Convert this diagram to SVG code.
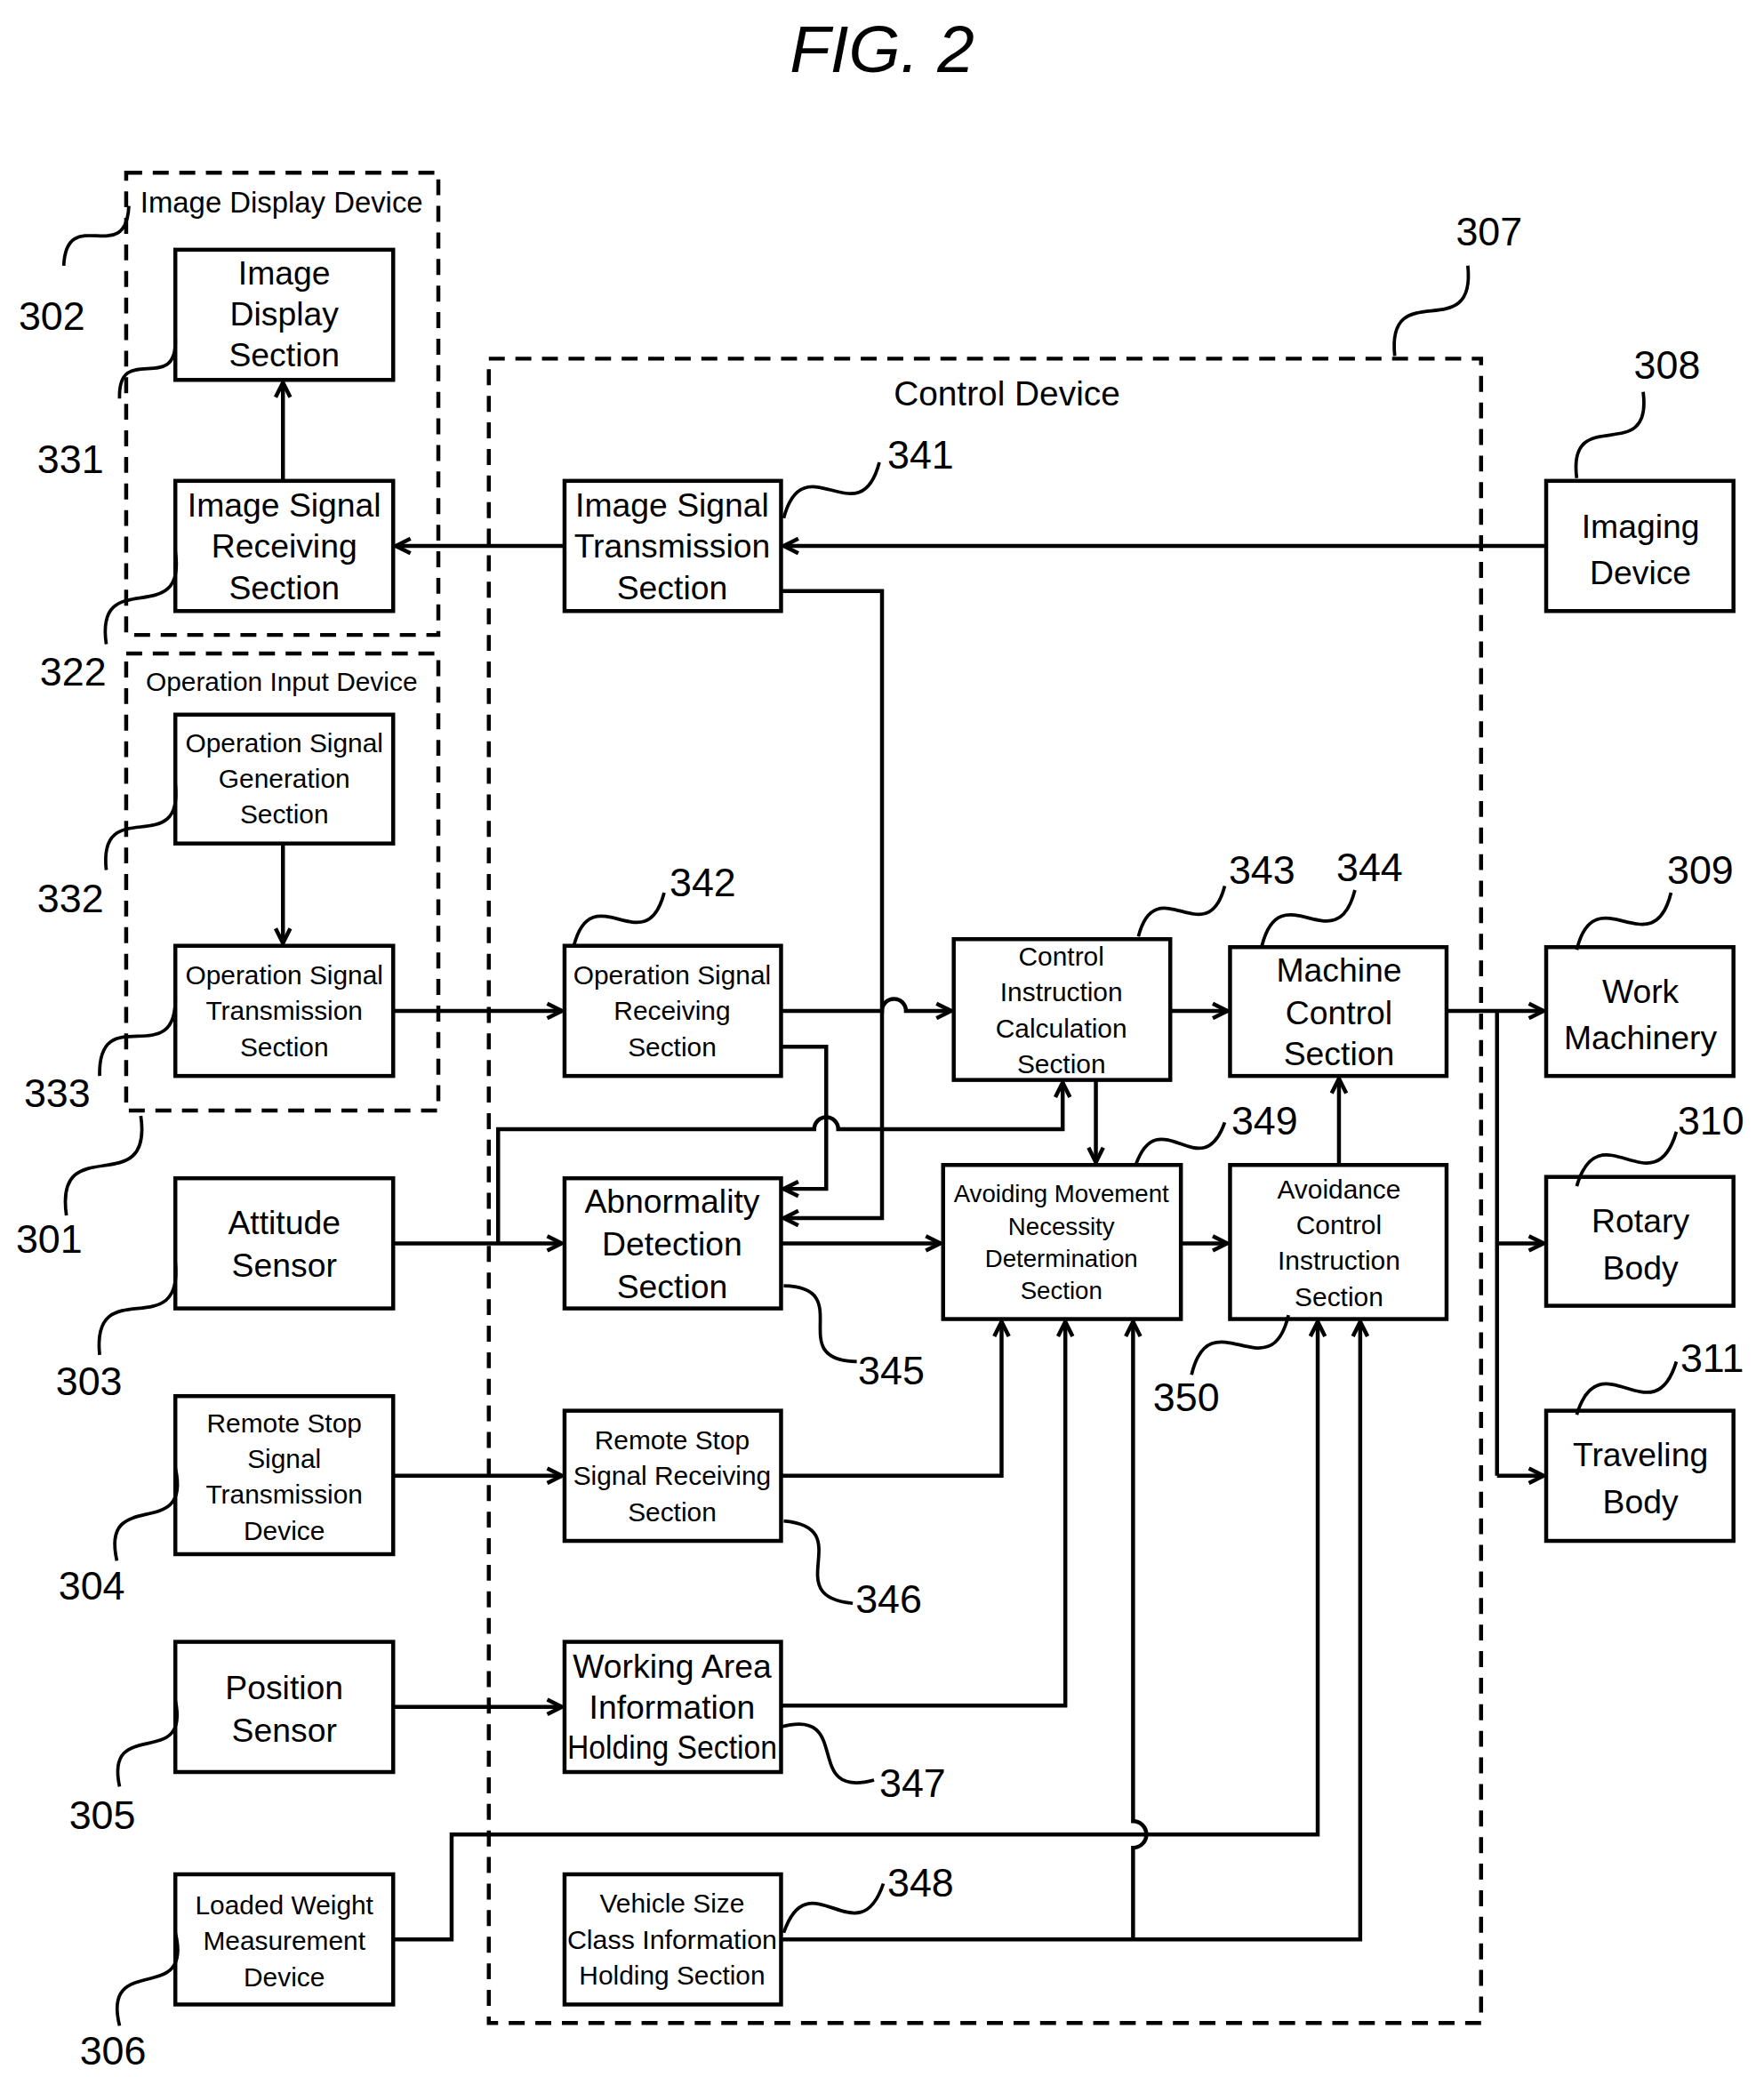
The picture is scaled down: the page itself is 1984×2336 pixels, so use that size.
<svg xmlns="http://www.w3.org/2000/svg" width="1984" height="2336" viewBox="0 0 1984 2336">
<style>
.b{fill:#fff;stroke:#000;stroke-width:3}
.d{fill:none;stroke:#000;stroke-width:3;stroke-dasharray:12,8}
.c{fill:none;stroke:#000;stroke-width:3}
.s{fill:none;stroke:#000;stroke-width:2.5}
text{font-family:"Liberation Sans",Arial,sans-serif;fill:#000;text-anchor:middle}
.L{font-size:25px}
.M{font-size:20px}
.S{font-size:18.5px}
.n{font-size:30px;text-anchor:start}
</style>
<defs>
<marker id="a" viewBox="0 0 14 14" markerWidth="14" markerHeight="14" refX="12" refY="7" orient="auto" markerUnits="userSpaceOnUse">
<path d="M1,1.5 L12,7 L1,12.5" fill="none" stroke="#000" stroke-width="3"/>
</marker>
</defs>
<rect width="1984" height="2336" fill="#fff"/>
<g transform="scale(1.494)">
<text x="664" y="54" style="font-size:50px;font-style:italic">FIG. 2</text>
<g id="containers">
<rect class="d" x="95" y="130" width="235" height="348"/>
<text x="212" y="160" style="font-size:22px">Image Display Device</text>
<rect class="d" x="95" y="492" width="235" height="344"/>
<text x="212" y="520" style="font-size:20px">Operation Input Device</text>
<rect class="d" x="368" y="270" width="747" height="1253"/>
<text x="758" y="305" style="font-size:26px">Control Device</text>
</g>
<g id="connectors">
<path class="c" d="M213,362 V288" marker-end="url(#a)"/>
<path class="c" d="M425,411 H298" marker-end="url(#a)"/>
<path class="c" d="M1164,411 H590" marker-end="url(#a)"/>
<path class="c" d="M588,445 H664 V917 H590" marker-end="url(#a)"/>
<path class="c" d="M213,635 V710" marker-end="url(#a)"/>
<path class="c" d="M296,761 H423" marker-end="url(#a)"/>
<path class="c" d="M588,761 H664 A9,9 0 0 1 682,761 H716" marker-end="url(#a)"/>
<path class="c" d="M588,788 H622 V895 H590" marker-end="url(#a)"/>
<path class="c" d="M296,936 H423" marker-end="url(#a)"/>
<path class="c" d="M375,936 V850 H613 A9,9 0 0 1 631,850 H800 V815" marker-end="url(#a)"/>
<path class="c" d="M588,936 H708" marker-end="url(#a)"/>
<path class="c" d="M825,813 V875" marker-end="url(#a)"/>
<path class="c" d="M889,936 H924" marker-end="url(#a)"/>
<path class="c" d="M1008,877 V812" marker-end="url(#a)"/>
<path class="c" d="M881,761 H924" marker-end="url(#a)"/>
<path class="c" d="M1089,761 H1162" marker-end="url(#a)"/>
<path class="c" d="M1127,761 V1111"/>
<path class="c" d="M1127,936 H1162" marker-end="url(#a)"/>
<path class="c" d="M1127,1111 H1162" marker-end="url(#a)"/>
<path class="c" d="M296,1111 H423" marker-end="url(#a)"/>
<path class="c" d="M588,1111 H754 V995" marker-end="url(#a)"/>
<path class="c" d="M296,1285 H423" marker-end="url(#a)"/>
<path class="c" d="M588,1284 H802 V995" marker-end="url(#a)"/>
<path class="c" d="M296,1460 H340 V1381 H992 V995" marker-end="url(#a)"/>
<path class="c" d="M588,1460 H1024 V995" marker-end="url(#a)"/>
<path class="c" d="M853,1460 V1391 A10,10 0 0 0 853,1371 V995" marker-end="url(#a)"/>
</g>
<g id="n331"><rect class="b" x="132" y="188" width="164" height="98"/><text class="L" x="214" y="214">Image</text><text class="L" x="214" y="245">Display</text><text class="L" x="214" y="276">Section</text></g>
<g id="n322"><rect class="b" x="132" y="362" width="164" height="98"/><text class="L" x="214" y="389">Image Signal</text><text class="L" x="214" y="420">Receiving</text><text class="L" x="214" y="451">Section</text></g>
<g id="n332"><rect class="b" x="132" y="538" width="164" height="97"/><text class="M" x="214" y="566">Operation Signal</text><text class="M" x="214" y="593">Generation</text><text class="M" x="214" y="620">Section</text></g>
<g id="n333"><rect class="b" x="132" y="712" width="164" height="98"/><text class="M" x="214" y="741">Operation Signal</text><text class="M" x="214" y="768">Transmission</text><text class="M" x="214" y="795">Section</text></g>
<g id="n303"><rect class="b" x="132" y="887" width="164" height="98"/><text class="L" x="214" y="929">Attitude</text><text class="L" x="214" y="961">Sensor</text></g>
<g id="n304"><rect class="b" x="132" y="1051" width="164" height="119"/><text class="M" x="214" y="1078">Remote Stop</text><text class="M" x="214" y="1105">Signal</text><text class="M" x="214" y="1132">Transmission</text><text class="M" x="214" y="1159">Device</text></g>
<g id="n305"><rect class="b" x="132" y="1236" width="164" height="98"/><text class="L" x="214" y="1279">Position</text><text class="L" x="214" y="1311">Sensor</text></g>
<g id="n306"><rect class="b" x="132" y="1411" width="164" height="98"/><text class="M" x="214" y="1441">Loaded Weight</text><text class="M" x="214" y="1468">Measurement</text><text class="M" x="214" y="1495">Device</text></g>
<g id="n341"><rect class="b" x="425" y="362" width="163" height="98"/><text class="L" x="506" y="389">Image Signal</text><text class="L" x="506" y="420">Transmission</text><text class="L" x="506" y="451">Section</text></g>
<g id="n342"><rect class="b" x="425" y="712" width="163" height="98"/><text class="M" x="506" y="741">Operation Signal</text><text class="M" x="506" y="768">Receiving</text><text class="M" x="506" y="795">Section</text></g>
<g id="n345"><rect class="b" x="425" y="887" width="163" height="98"/><text class="L" x="506" y="913">Abnormality</text><text class="L" x="506" y="945">Detection</text><text class="L" x="506" y="977">Section</text></g>
<g id="n346"><rect class="b" x="425" y="1062" width="163" height="98"/><text class="M" x="506" y="1091">Remote Stop</text><text class="M" x="506" y="1118">Signal Receiving</text><text class="M" x="506" y="1145">Section</text></g>
<g id="n347"><rect class="b" x="425" y="1236" width="163" height="98"/><text class="L" x="506" y="1263">Working Area</text><text class="L" x="506" y="1294">Information</text><text class="L" x="506" y="1324" textLength="158" lengthAdjust="spacingAndGlyphs">Holding Section</text></g>
<g id="n348"><rect class="b" x="425" y="1411" width="163" height="98"/><text class="M" x="506" y="1440">Vehicle Size</text><text class="M" x="506" y="1467" textLength="158" lengthAdjust="spacingAndGlyphs">Class Information</text><text class="M" x="506" y="1494">Holding Section</text></g>
<g id="n343"><rect class="b" x="718" y="707" width="163" height="106"/><text class="M" x="799" y="727">Control</text><text class="M" x="799" y="754">Instruction</text><text class="M" x="799" y="781">Calculation</text><text class="M" x="799" y="808">Section</text></g>
<g id="n344"><rect class="b" x="926" y="713" width="163" height="97"/><text class="L" x="1008" y="739">Machine</text><text class="L" x="1008" y="771">Control</text><text class="L" x="1008" y="802">Section</text></g>
<g id="n349"><rect class="b" x="710" y="877" width="179" height="116"/><text class="S" x="799" y="905">Avoiding Movement</text><text class="S" x="799" y="930">Necessity</text><text class="S" x="799" y="954">Determination</text><text class="S" x="799" y="978">Section</text></g>
<g id="n350"><rect class="b" x="926" y="877" width="163" height="116"/><text class="M" x="1008" y="902">Avoidance</text><text class="M" x="1008" y="929">Control</text><text class="M" x="1008" y="956">Instruction</text><text class="M" x="1008" y="983">Section</text></g>
<g id="n308"><rect class="b" x="1164" y="362" width="141" height="98"/><text class="L" x="1235" y="405">Imaging</text><text class="L" x="1235" y="440">Device</text></g>
<g id="n309"><rect class="b" x="1164" y="713" width="141" height="97"/><text class="L" x="1235" y="755">Work</text><text class="L" x="1235" y="790">Machinery</text></g>
<g id="n310"><rect class="b" x="1164" y="886" width="141" height="97"/><text class="L" x="1235" y="928">Rotary</text><text class="L" x="1235" y="963">Body</text></g>
<g id="n311"><rect class="b" x="1164" y="1062" width="141" height="98"/><text class="L" x="1235" y="1104">Traveling</text><text class="L" x="1235" y="1139">Body</text></g>
<g id="refs">
<path class="s" d="M48,200 C50,153 95,202 97,155"/><text class="n" x="14" y="248">302</text>
<path class="s" d="M90,300 C88.5,256.5 133.5,298.5 132,255"/><text class="n" x="28" y="356">331</text>
<path class="s" d="M80,485 C71,424 141,476 132,415"/><text class="n" x="30" y="516">322</text>
<path class="s" d="M80,655 C73.5,596.5 138.5,648.5 132,590"/><text class="n" x="28" y="687">332</text>
<path class="s" d="M75,810 C73.5,751.5 133.5,808.5 132,750"/><text class="n" x="18" y="833">333</text>
<path class="s" d="M50,915 C40.5,849.5 115.5,905.5 106,840"/><text class="n" x="12" y="943">301</text>
<path class="s" d="M75,1020 C68.5,956.5 138.5,1013.5 132,950"/><text class="n" x="42" y="1050">303</text>
<path class="s" d="M88,1175 C75,1118 145,1162 132,1105"/><text class="n" x="44" y="1204">304</text>
<path class="s" d="M90,1345 C78.5,1291.5 143.5,1333.5 132,1280"/><text class="n" x="52" y="1377">305</text>
<path class="s" d="M90,1525 C76,1469 146,1511 132,1455"/><text class="n" x="60" y="1554">306</text>
<path class="s" d="M1050,268 C1043.5,206.5 1111.5,261.5 1105,200"/><text class="n" x="1096" y="185">307</text>
<path class="s" d="M1187,360 C1179.5,302.5 1244.5,352.5 1237,295"/><text class="n" x="1230" y="285">308</text>
<path class="s" d="M590,390 C605,333 647,405 662,348"/><text class="n" x="668" y="353">341</text>
<path class="s" d="M432,712 C446,658 486,726 500,672"/><text class="n" x="504" y="675">342</text>
<path class="s" d="M857,705 C870.5,653.5 908.5,718.5 922,667"/><text class="n" x="925" y="665">343</text>
<path class="s" d="M950,712 C964,656 1006,726 1020,670"/><text class="n" x="1006" y="663">344</text>
<path class="s" d="M1187,715 C1201,658 1244,729 1258,672"/><text class="n" x="1255" y="665">309</text>
<path class="s" d="M855,877 C872.5,827.5 904.5,894.5 922,845"/><text class="n" x="927" y="854">349</text>
<path class="s" d="M1187,893 C1204,835 1245,910 1262,852"/><text class="n" x="1263" y="854">310</text>
<path class="s" d="M1187,1065 C1204.5,1007.5 1244.5,1082.5 1262,1025"/><text class="n" x="1265" y="1033">311</text>
<path class="s" d="M590,968 C646,969 589,1024 645,1025"/><text class="n" x="646" y="1042">345</text>
<path class="s" d="M590,1145 C647,1150 585,1202 642,1207"/><text class="n" x="644" y="1214">346</text>
<path class="s" d="M588,1300 C643,1285 603,1355 658,1340"/><text class="n" x="662" y="1353">347</text>
<path class="s" d="M590,1455 C609,1399 646,1474 665,1418"/><text class="n" x="668" y="1428">348</text>
<path class="s" d="M897,1035 C911,976 956,1049 970,990"/><text class="n" x="868" y="1062">350</text>
</g>
</g>
</svg>
